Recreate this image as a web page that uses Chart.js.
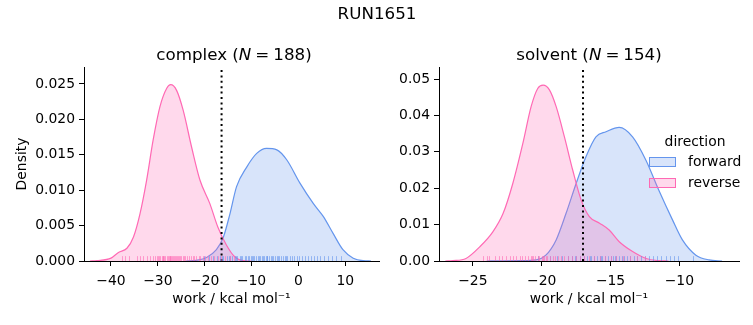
<!DOCTYPE html>
<html>
<head>
<meta charset="utf-8">
<script src="https://cdn.jsdelivr.net/npm/chart.js@4.4.0/dist/chart.umd.min.js"></script>
<style>
  html, body { margin: 0; padding: 0; background: #fff; }
  #wrap { position: relative; width: 753px; height: 325px; overflow: hidden; font-family: 'DejaVu Sans', sans-serif; color: #000; }
  canvas { position: absolute; top: 0; }
  .txt { position: absolute; white-space: nowrap; line-height: 1; }
  .sup { font-size: 16.7px; transform: translate(-50%, -50%); }
  .leg { font-size: 13.9px; }
  .patch { position: absolute; width: 27px; height: 10px; box-sizing: border-box; border: 1px solid; }
  .sp { display: inline-block; width: 0.24em; }
</style>
</head>
<body>
<div id="wrap">
  <canvas id="c1" width="380" height="325" style="left:0px"></canvas>
  <canvas id="c2" width="373" height="325" style="left:380px"></canvas>
  <div class="txt sup" style="left:377px; top:13px;">RUN1651</div>
  <div class="txt sup" style="left:234px; top:54px;">complex (<i>N</i><span class="sp"></span>=<span class="sp"></span>188)</div>
  <div class="txt sup" style="left:589px; top:54px;">solvent (<i>N</i><span class="sp"></span>=<span class="sp"></span>154)</div>
  <div class="txt leg" style="left:695px; top:142px; transform: translate(-50%,-50%);">direction</div>
  <div class="patch" style="left:649px; top:157px; background: rgba(100,149,237,0.25); border-color:#6495ED;"></div>
  <div class="txt leg" style="left:688px; top:162px; transform: translate(0,-50%);">forward</div>
  <div class="patch" style="left:649px; top:178px; background: rgba(255,105,180,0.25); border-color:#FF69B4;"></div>
  <div class="txt leg" style="left:688px; top:183px; transform: translate(0,-50%);">reverse</div>
</div>
<script>
// ---------- data ----------
// complex: KDE curves (x in kcal/mol, density)
const complexForwardX = [-24, -21.8, -19.6, -17.5, -16.0, -14.6, -13.2, -11.0, -8.9, -6.8, -4.6, -2.5, 0.33, 3.2, 5.3, 7.4, 9.5, 11.7, 13.8, 15.5];
const complexForwardY = [0, 0.0001, 0.0005, 0.0016, 0.0034, 0.0067, 0.0105, 0.0133, 0.0152, 0.0159, 0.0157, 0.0143, 0.0110, 0.0081, 0.0063, 0.0039, 0.0016, 0.0004, 0.00004, 0];
const complexReverseX = [-44.5, -43.0, -40.0, -38.4, -36.6, -35.2, -33.8, -32.4, -31.0, -29.55, -28.1, -27.26, -26.0, -24.6, -22.8, -21.0, -18.9, -17.2, -15.4, -13.6, -11.8, -10.0];
const complexReverseY = [0, 0.00005, 0.0004, 0.0012, 0.0018, 0.0034, 0.0067, 0.0114, 0.0171, 0.0218, 0.0244, 0.0249, 0.0241, 0.0213, 0.0161, 0.0114, 0.0081, 0.0048, 0.0023, 0.0006, 0.00004, 0];
const complexRugForward = [-20.1, -19.0, -18.2, -17.4, -16.8, -16.3, -16.0, -15.3, -14.9, -14.7, -14.1, -13.6, -13.3, -13.0, -12.5, -12.2, -12.0, -11.5, -11.1, -10.8, -10.6, -10.2, -9.8, -9.6, -9.4, -9.0, -8.6, -8.4, -8.2, -7.8, -7.6, -7.4, -7.0, -6.8, -6.6, -6.2, -5.8, -5.6, -5.4, -5.0, -4.6, -4.4, -4.2, -3.8, -3.3, -2.9, -2.6, -2.4, -1.9, -1.4, -0.9, -0.4, 0.2, 0.8, 1.4, 2.0, 2.6, 3.3, 3.9, 4.7, 5.4, 6.3, 7.1, 8.0, 9.0];
const complexRugReverse = [-37.7, -37.1, -36.1, -34.5, -33.8, -33.2, -32.4, -31.7, -31.1, -30.6, -30.2, -29.9, -29.7, -29.5, -29.2, -28.9, -28.8, -28.6, -28.4, -28.1, -27.9, -27.7, -27.5, -27.3, -27.1, -26.9, -26.7, -26.5, -26.4, -26.2, -26.0, -25.8, -25.5, -25.3, -25.0, -24.7, -24.4, -24.1, -23.8, -23.4, -23.0, -22.6, -22.2, -21.8, -21.3, -20.9, -20.4, -19.9, -19.3, -18.7, -18.0, -17.2, -16.5, -15.6, -14.6, -13.7];
const complexMarker = -16.4;
const complexXLim = [-45.76, 17.2];
const complexYMax = 0.0274;
const complexXTicks = [-40, -30, -20, -10, 0, 10];
const complexYTicks = [0.000, 0.005, 0.010, 0.015, 0.020, 0.025];

// solvent
const solventForwardX = [-24.0, -23.1, -21.5, -20.4, -19.7, -18.95, -18.23, -17.5, -16.78, -16.06, -15.33, -14.37, -13.4, -12.43, -11.5, -10.5, -9.78, -8.8, -7.85, -6.9];
const solventForwardY = [0, 0.00003, 0.00008, 0.0003, 0.0016, 0.0058, 0.0131, 0.0213, 0.0287, 0.0341, 0.0355, 0.0367, 0.0341, 0.0277, 0.0195, 0.0113, 0.0058, 0.0016, 0.0003, 0];
const solventReverseX = [-27.0, -26.45, -25.5, -24.5, -23.55, -22.8, -22.1, -21.37, -20.77, -20.29, -19.9, -19.44, -18.95, -18.35, -17.75, -17.14, -16.54, -15.8, -15.1, -14.37, -13.4, -12.43, -11.5, -10.8];
const solventReverseY = [0, 0.0001, 0.0007, 0.0039, 0.0080, 0.0131, 0.0213, 0.0323, 0.0424, 0.0474, 0.0483, 0.0470, 0.0424, 0.0341, 0.0250, 0.0168, 0.0122, 0.0104, 0.0085, 0.0053, 0.0026, 0.0007, 0.0001, 0];
const solventRugForward = [-20.3, -19.4, -18.9, -18.5, -18.1, -17.8, -17.6, -17.5, -17.2, -16.9, -16.7, -16.5, -16.4, -16.2, -16.0, -15.8, -15.7, -15.6, -15.4, -15.2, -15.0, -14.8, -14.7, -14.6, -14.4, -14.2, -14.0, -13.8, -13.6, -13.3, -13.1, -12.8, -12.5, -12.2, -11.9, -11.6, -11.3, -11.0, -10.7, -10.4, -10.1, -9.0];
const solventRugReverse = [-24.3, -24.0, -23.8, -23.4, -23.1, -22.9, -22.6, -22.3, -22.1, -21.9, -21.6, -21.4, -21.2, -21.0, -20.8, -20.7, -20.6, -20.5, -20.3, -20.2, -20.0, -19.9, -19.8, -19.7, -19.6, -19.4, -19.2, -19.0, -18.8, -18.6, -18.4, -18.1, -17.8, -17.5, -17.2, -16.9, -16.6, -16.2, -15.8, -15.4, -15.0, -14.6, -14.1, -13.6, -13.1, -12.5];
const solventMarker = -17.0;
const solventXLim = [-27.46, -5.67];
const solventYMax = 0.0533;
const solventXTicks = [-25, -20, -15, -10];
const solventYTicks = [0.00, 0.01, 0.02, 0.03, 0.04, 0.05];

// ---------- styling ----------
const BLUE = '#6495ED', PINK = '#FF69B4';
const BLUE_FILL = 'rgba(100,149,237,0.25)', PINK_FILL = 'rgba(255,105,180,0.25)';
Chart.defaults.font.family = "'DejaVu Sans', sans-serif";
Chart.defaults.font.size = 13.9;
Chart.defaults.color = '#000';

const zip = (xs, ys) => xs.map((x, i) => ({x: x, y: ys[i]}));
const fmtMinus = v => (v < 0 ? '\u2212' + Math.abs(v) : String(v));

const rugPlugin = {
  id: 'rug',
  afterDatasetsDraw(chart) {
    const rugs = chart.options.plugins.rug;
    if (!rugs) return;
    const xs = chart.scales.x, ca = chart.chartArea, ctx = chart.ctx;
    const h = (ca.bottom - ca.top) * 0.025;
    ctx.save();
    ctx.lineWidth = 1;
    rugs.sets.forEach(s => {
      ctx.strokeStyle = s.color;
      ctx.globalAlpha = 0.6;
      s.values.forEach(v => {
        const px = Math.round(xs.getPixelForValue(v)) + 0.5;
        ctx.beginPath();
        ctx.moveTo(px, ca.bottom);
        ctx.lineTo(px, ca.bottom - h);
        ctx.stroke();
      });
    });
    ctx.restore();
  }
};

function makeChart(id, cfg) {
  const datasets = [
    { label: 'forward', data: zip(cfg.fx, cfg.fy), borderColor: BLUE, backgroundColor: BLUE_FILL, fill: 'origin', borderWidth: 1.2, pointRadius: 0, cubicInterpolationMode: 'monotone', order: 3 },
    { label: 'reverse', data: zip(cfg.rx, cfg.ry), borderColor: PINK, backgroundColor: PINK_FILL, fill: 'origin', borderWidth: 1.2, pointRadius: 0, cubicInterpolationMode: 'monotone', order: 2 },
    { label: 'marker', data: [{x: cfg.marker, y: 0}, {x: cfg.marker, y: cfg.ymax}], borderColor: '#000', borderWidth: 2, borderDash: [2, 3.4], pointRadius: 0, fill: false, order: 1 }
  ];
  return new Chart(document.getElementById(id), {
    type: 'line',
    data: { datasets },
    options: {
      responsive: false, animation: false, devicePixelRatio: 1,
      layout: { padding: { left: 0, right: cfg.padRight, top: 67, bottom: 0 } },
      plugins: { legend: { display: false }, tooltip: { enabled: false },
        rug: { sets: [ { values: cfg.rugF, color: BLUE }, { values: cfg.rugR, color: PINK } ] } },
      scales: {
        x: {
          type: 'linear', min: cfg.xlim[0], max: cfg.xlim[1],
          afterBuildTicks: s => { s.ticks = cfg.xticks.map(v => ({value: v})); },
          afterFit: s => { s.height = 64; },
          ticks: { callback: v => fmtMinus(v), padding: 7, maxRotation: 0, autoSkip: false },
          grid: { display: true, drawOnChartArea: false, drawTicks: true, tickLength: 5, color: '#000', tickWidth: 1 },
          border: { display: true, color: '#000', width: 1 },
          title: { display: true, text: 'work / kcal mol\u207B\u00B9', padding: { top: 0, bottom: 17 } }
        },
        y: {
          type: 'linear', min: 0, max: cfg.ymax,
          afterBuildTicks: s => { s.ticks = cfg.yticks.map(v => ({value: v})); },
          afterFit: s => { s.width = cfg.yw; },
          ticks: { callback: v => v.toFixed(cfg.ydec), padding: 4, autoSkip: false },
          grid: { display: true, drawOnChartArea: false, drawTicks: true, tickLength: 5, color: '#000', tickWidth: 1 },
          border: { display: true, color: '#000', width: 1 },
          title: { display: cfg.ytitle, text: 'Density', padding: { top: 14, bottom: 0 } }
        }
      }
    },
    plugins: [rugPlugin]
  });
}

makeChart('c1', { fx: complexForwardX, fy: complexForwardY, rx: complexReverseX, ry: complexReverseY,
  rugF: complexRugForward, rugR: complexRugReverse, marker: complexMarker, xlim: complexXLim, ymax: complexYMax,
  xticks: complexXTicks, yticks: complexYTicks, ydec: 3, yw: 84, padRight: 1, ytitle: true });
makeChart('c2', { fx: solventForwardX, fy: solventForwardY, rx: solventReverseX, ry: solventReverseY,
  rugF: solventRugForward, rugR: solventRugReverse, marker: solventMarker, xlim: solventXLim, ymax: solventYMax,
  xticks: solventXTicks, yticks: solventYTicks, ydec: 2, yw: 59, padRight: 14, ytitle: false });
</script>
</body>
</html>
